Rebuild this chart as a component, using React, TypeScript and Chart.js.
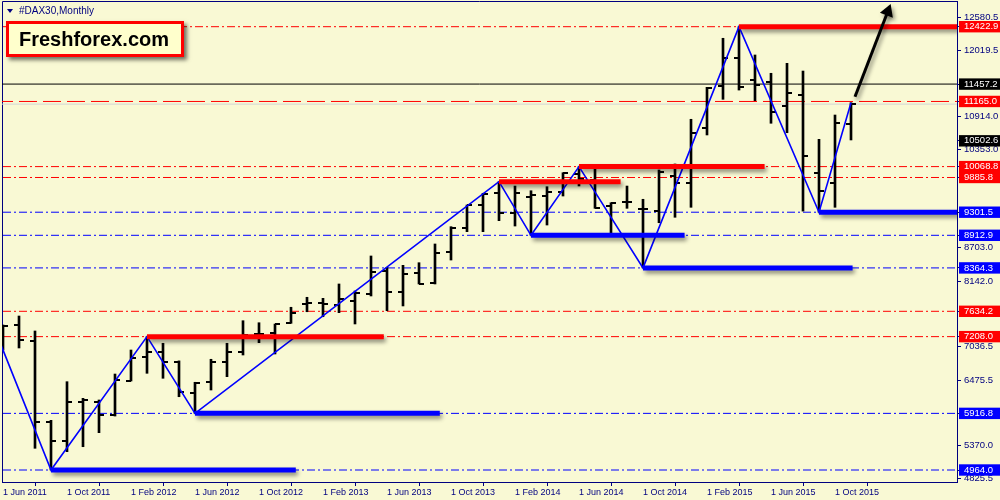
import React, { useEffect, useRef } from 'react';
import { Chart, registerables } from 'chart.js';

Chart.register(...registerables);

// ---- data (index 0 = 1 Jun 2011, monthly bars) ----
const MONTHS = ['Jan', 'Feb', 'Mar', 'Apr', 'May', 'Jun', 'Jul', 'Aug', 'Sep', 'Oct', 'Nov', 'Dec'];
const START_MONTH = 5;
const START_YEAR = 2011;

const barOpen = [7220, 7404, 7139, 5772, 5457, 6113, 6113, 5889, 6461, 6870, 6955, 6786, 6254, 6450, 6786, 6955, 7252, 7274, 7442, 7765, 7769, 7740, 7813, 7925, 8317, 7964, 8274, 8105, 8637, 9031, 9423, 9630, 9293, 9552, 9574, 9647, 9944, 9843, 9406, 9478, 9351, 9327, 9911, 9798, 10713, 11425, 11891, 11526, 11497, 11089, 11274, 9966, 9788, 10781];
const barHigh = [7404, 7555, 7303, 5800, 6450, 6170, 6142, 6579, 6983, 7208, 7096, 6800, 6440, 6827, 7096, 7476, 7442, 7420, 7702, 7870, 7853, 8094, 7976, 8565, 8374, 8408, 8452, 8767, 9058, 9423, 9620, 9815, 9742, 9663, 9731, 9966, 10068.8, 10040, 9461, 9742, 9519, 10012, 10113, 10865, 11403, 12228, 12422.9, 11947, 11639, 11807, 11677, 10528, 10937, 11144];
const barLow = [6983, 7017, 5329, 4964, 5272, 5356, 5592, 5872, 6461, 6591, 6507, 6197, 5916.8, 6310, 6534, 6899, 7106, 6916, 7432, 7627, 7543, 7611, 7421, 7892, 7644, 7724, 8094, 8094, 8497, 8974, 8974, 9159, 9069, 8912.9, 9086, 9574, 9743, 9367, 8957, 9367, 8364.3, 9125, 9216, 9384, 10601, 11201, 11357, 11178, 10798, 10639, 9320, 9301.5, 9384, 10517];
const barClose = [7390, 7151, 5777, 5457, 6113, 6142, 5889, 6478, 6853, 6955, 6786, 6281, 6423, 6786, 6955, 7235, 7252, 7420, 7611, 7780, 7757, 7836, 7937, 8301, 7964, 8262, 8094, 8610, 9031, 9423, 9608, 9293, 9630, 9591, 9647, 9956, 9855, 9377, 9461, 9478, 9351, 9983, 9798, 10639, 11386, 11891, 11403, 11442, 10993, 11312, 10252, 9663, 10807, 11120];

const xTickIndex = [0, 4, 8, 12, 16, 20, 24, 28, 32, 36, 40, 44, 48, 52];
const axisTicks = [12580.5, 12019.5, 10914.0, 10353.0, 8703.0, 8142.0, 7036.5, 6475.5, 5370.0, 4825.5];
const redLabels = [12422.9, 11165.0, 10068.8, 9885.8, 7634.2, 7208.0];
const blackLabels = [11457.2, 10502.6];
const blueLabels = [9301.5, 8912.9, 8364.3, 5916.8, 4964.0];

const redDashDotLines = [12422.9, 10068.8, 9885.8, 7634.2, 7208.0];
const blueDashDotLines = [9301.5, 8912.9, 8364.3, 5916.8, 4964.0];
const redDashedLine = 11165.0;
const blackSolidLine = 11457.2;
const bidLine = 11120.0;

const zigzagX = [-1, 3, 9, 12, 31, 33, 36, 40, 46, 51, 53];
const zigzagY = [7656, 4964.0, 7208.0, 5916.8, 9815, 8912.9, 10068.8, 8364.3, 12422.9, 9301.5, 11144];

const resistStart = [46, 36, 31, 9];
const resistEnd = [60, 47.6, 38.6, 23.8];
const resistValue = [12422.9, 10068.8, 9815, 7208.0];
const supportStart = [51, 33, 40, 12, 3];
const supportEnd = [60, 42.6, 53.1, 27.3, 18.3];
const supportValue = [9301.5, 8912.9, 8364.3, 5916.8, 4964.0];

const arrowX = [53.25, 55.3];
const arrowY = [11245, 12679];

// ---- axis ranges / styles ----
const X_MIN = -0.0625;
const X_MAX = 59.625;
const Y_MIN = 4762.1;
const Y_MAX = 12855.3;
const NAVY = '#000080';
const BG = '#F9F9D4';
const FONT = "'Liberation Sans', Arial, sans-serif";

function xLabel(v: number) {
  const m = START_MONTH + Math.round(v);
  return `1 ${MONTHS[m % 12]} ${START_YEAR + Math.floor(m / 12)}`;
}

function labelColor(v: number): string | null {
  const eq = (a: number) => Math.abs(a - v) < 1e-6;
  if (redLabels.some(eq)) return '#FF0000';
  if (blackLabels.some(eq)) return '#000000';
  if (blueLabels.some(eq)) return '#0000FF';
  return null;
}

const shadowPlugin = {
  id: 'segShadow',
  beforeDatasetDraw(chart: any, args: any) {
    const ds = chart.data.datasets[args.index];
    if (ds && ds.shadow) {
      const c = chart.ctx;
      c.save();
      c.shadowColor = 'rgba(0,0,0,0.45)';
      c.shadowBlur = 4;
      c.shadowOffsetX = 2;
      c.shadowOffsetY = 3;
    }
  },
  afterDatasetDraw(chart: any, args: any) {
    const ds = chart.data.datasets[args.index];
    if (ds && ds.shadow) chart.ctx.restore();
  },
};

const framePlugin = {
  id: 'frame',
  beforeDatasetsDraw(chart: any) {
    const { ctx, chartArea: a } = chart;
    ctx.save();
    ctx.strokeStyle = NAVY;
    ctx.lineWidth = 1;
    ctx.beginPath();
    ctx.moveTo(a.left + 0.5, a.bottom);
    ctx.lineTo(a.left + 0.5, a.top + 0.5);
    ctx.lineTo(a.right, a.top + 0.5);
    ctx.stroke();
    ctx.restore();
  },
};

export default function App() {
  const ref = useRef<HTMLCanvasElement>(null);

  useEffect(() => {
    if (!ref.current) return;
    const mkTick = (left: boolean) => {
      const c = document.createElement('canvas');
      c.width = 12;
      c.height = 2;
      const g = c.getContext('2d')!;
      g.fillStyle = '#000';
      g.fillRect(left ? 1 : 6, 0, 5, 2);
      return c;
    };
    const openImg = mkTick(true);
    const closeImg = mkTick(false);

    const hline = (v: number, color: string, dash: number[], width = 1) => ({
      type: 'line',
      data: [{ x: -2, y: v }, { x: 62, y: v }],
      borderColor: color,
      borderWidth: width,
      borderDash: dash,
      pointRadius: 0,
      order: 50,
    });

    const datasets: any[] = [];
    redDashDotLines.forEach((v) => datasets.push(hline(v, '#FF0000', [8, 3, 2, 3])));
    blueDashDotLines.forEach((v) => datasets.push(hline(v, '#0000FF', [8, 3, 2, 3])));
    datasets.push(hline(redDashedLine, '#FF0000', [18, 6]));
    datasets.push(hline(blackSolidLine, '#000000', []));
    datasets.push(hline(bidLine, '#D4D4D4', []));

    datasets.push({
      type: 'bar',
      data: barLow.map((l, i) => ({ x: i, y: [l, barHigh[i]] })),
      backgroundColor: '#000000',
      borderWidth: 0,
      barThickness: 2,
      order: 40,
    });
    datasets.push({
      type: 'line',
      showLine: false,
      data: barOpen.map((v, i) => ({ x: i, y: v })),
      pointStyle: openImg,
      pointRadius: 3,
      order: 39,
    });
    datasets.push({
      type: 'line',
      showLine: false,
      data: barClose.map((v, i) => ({ x: i, y: v })),
      pointStyle: closeImg,
      pointRadius: 3,
      order: 39,
    });

    datasets.push({
      type: 'line',
      data: zigzagX.map((x, i) => ({ x, y: zigzagY[i] })),
      borderColor: '#0000FF',
      borderWidth: 1.6,
      pointRadius: 0,
      tension: 0,
      order: 30,
    });

    resistValue.forEach((v, i) =>
      datasets.push({
        type: 'line',
        data: [{ x: resistStart[i], y: v }, { x: resistEnd[i], y: v }],
        borderColor: '#FF0000',
        borderWidth: 5,
        pointRadius: 0,
        order: 20,
        shadow: true,
      })
    );
    supportValue.forEach((v, i) =>
      datasets.push({
        type: 'line',
        data: [{ x: supportStart[i], y: v }, { x: supportEnd[i], y: v }],
        borderColor: '#0000FF',
        borderWidth: 5,
        pointRadius: 0,
        order: 20,
        shadow: true,
      })
    );

    datasets.push({
      type: 'line',
      data: arrowX.map((x, i) => ({ x, y: arrowY[i] })),
      borderColor: '#000000',
      borderWidth: 3,
      pointRadius: [0, 8],
      pointStyle: 'triangle',
      pointRotation: 21,
      pointBackgroundColor: '#000000',
      pointBorderColor: '#000000',
      pointBorderWidth: 0,
      order: 10,
      shadow: true,
    });

    const chart = new Chart(ref.current, {
      type: 'line',
      data: { datasets },
      plugins: [shadowPlugin, framePlugin],
      options: {
        animation: false,
        responsive: true,
        maintainAspectRatio: false,
        events: [],
        layout: { autoPadding: false, padding: { top: 1, left: 2, right: 0, bottom: 0 } },
        plugins: { legend: { display: false }, tooltip: { enabled: false } },
        scales: {
          x: {
            type: 'linear',
            min: X_MIN,
            max: X_MAX,
            position: 'bottom',
            offset: false,
            grid: { drawOnChartArea: false, drawTicks: true, tickLength: 4, color: NAVY },
            border: { display: true, color: NAVY, width: 1 },
            ticks: {
              align: 'start',
              padding: 1,
              autoSkip: false,
              maxRotation: 0,
              color: NAVY,
              font: { family: FONT, size: 9 },
              callback: (v: any) => xLabel(Number(v)),
            },
            afterBuildTicks: (s: any) => {
              s.ticks = xTickIndex.map((v) => ({ value: v }));
            },
            afterFit: (s: any) => {
              s.height = 18;
              s.paddingLeft = 0;
              s.paddingRight = 0;
            },
          },
          y: {
            type: 'linear',
            position: 'right',
            min: Y_MIN,
            max: Y_MAX,
            grid: { drawOnChartArea: false, drawTicks: true, tickLength: 4, color: NAVY },
            border: { display: true, color: NAVY, width: 1 },
            ticks: {
              padding: 3,
              autoSkip: false,
              color: (c: any) => (labelColor(c.tick ? c.tick.value : 0) ? '#FFFFFF' : NAVY),
              font: { family: FONT, size: 9.5 },
              callback: (v: any) => Number(v).toFixed(1),
              showLabelBackdrop: (c: any) => !!labelColor(c.tick ? c.tick.value : 0),
              backdropColor: (c: any) => labelColor(c.tick ? c.tick.value : 0) || 'rgba(0,0,0,0)',
              backdropPadding: { top: 0, bottom: 0, left: 5, right: 10 },
            },
            afterBuildTicks: (s: any) => {
              s.ticks = [...axisTicks, ...redLabels, ...blackLabels, ...blueLabels].map((v) => ({ value: v }));
            },
            afterFit: (s: any) => {
              s.width = 43;
              s.paddingTop = 0;
              s.paddingBottom = 0;
            },
          },
        },
      } as any,
    } as any);

    return () => chart.destroy();
  }, []);

  return (
    <div
      style={{
        position: 'fixed',
        left: 0,
        top: 0,
        width: 1000,
        height: 500,
        background: BG,
        overflow: 'hidden',
      }}
    >
      <canvas ref={ref} />
      <div
        style={{
          position: 'absolute',
          left: 7,
          top: 5,
          display: 'flex',
          alignItems: 'center',
          fontFamily: "'Liberation Sans', sans-serif",
          fontSize: 10,
          color: NAVY,
          lineHeight: '12px',
        }}
      >
        <span
          style={{
            display: 'inline-block',
            width: 0,
            height: 0,
            borderLeft: '3px solid transparent',
            borderRight: '3px solid transparent',
            borderTop: '4px solid ' + NAVY,
            marginRight: 6,
          }}
        />
        <span>#DAX30,Monthly</span>
      </div>
      <div
        style={{
          position: 'absolute',
          left: 6,
          top: 21,
          width: 178,
          height: 36,
          boxSizing: 'border-box',
          border: '3px solid #FF0000',
          background: '#FFFFCC',
          boxShadow: '3px 3px 4px rgba(0,0,0,0.55)',
          paddingLeft: 10,
          fontFamily: "'Liberation Sans', Arial, sans-serif",
          fontWeight: 'bold',
          fontSize: 20,
          lineHeight: '30px',
          color: '#000000',
        }}
      >
        Freshforex.com
      </div>
    </div>
  );
}
